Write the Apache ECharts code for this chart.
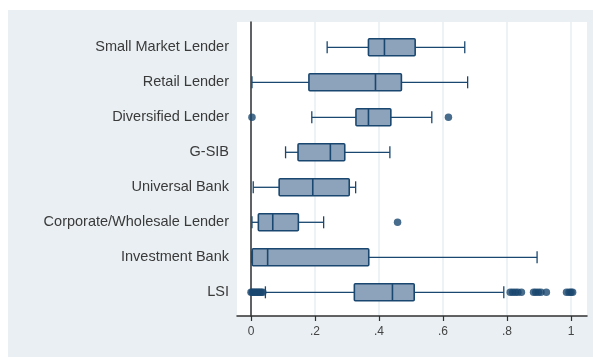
<!DOCTYPE html>
<html>
<head>
<meta charset="utf-8">
<script src="https://cdn.jsdelivr.net/npm/echarts@6/dist/echarts.min.js"></script>
<style>
  html, body { margin: 0; padding: 0; background: #ffffff; }
  #chart { width: 593px; height: 358px; }
</style>
</head>
<body>
<div id="chart"></div>
<script>
// Bank business-model groups, top to bottom
const categories = [
  'Small Market Lender',
  'Retail Lender',
  'Diversified Lender',
  'G-SIB',
  'Universal Bank',
  'Corporate/Wholesale Lender',
  'Investment Bank',
  'LSI'
];

// Box-plot summary per group
const whiskerLow  = [0.238, 0.003, 0.190, 0.108, 0.007, 0.003, 0.002, 0.045];
const quartile1   = [0.367, 0.181, 0.328, 0.147, 0.088, 0.023, 0.004, 0.323];
const medians     = [0.417, 0.389, 0.367, 0.248, 0.193, 0.068, 0.052, 0.442];
const quartile3   = [0.513, 0.470, 0.437, 0.293, 0.307, 0.148, 0.368, 0.510];
const whiskerHigh = [0.668, 0.677, 0.565, 0.434, 0.327, 0.227, 0.894, 0.790];

// Outside values per group
const outliers = [
  [],
  [],
  [0.003, 0.617],
  [],
  [],
  [0.458],
  [],
  [0.000, 0.004, 0.008, 0.012, 0.016, 0.020, 0.024, 0.028, 0.032, 0.037,
   0.810, 0.818, 0.826, 0.834, 0.845,
   0.883, 0.890, 0.898, 0.906, 0.923,
   0.986, 0.994, 1.000, 1.005]
];

// Axis ticks
const tickValues = [0, 0.2, 0.4, 0.6, 0.8, 1];

const NAVY = '#1a476f';
const BOX_FILL = '#8ca3bb';
const AXIS_COLOR = '#303030';
const X_MIN = -0.04375, X_MAX = 1.05;

const boxData = categories.map((c, i) =>
  [i, whiskerLow[i], quartile1[i], medians[i], quartile3[i], whiskerHigh[i]]);

const outlierData = [];
outliers.forEach((vals, i) => vals.forEach(v => outlierData.push([v, i])));

function renderBox(params, api) {
  const cat = api.value(0);
  const pLow = api.coord([api.value(1), cat]);
  const pQ1 = api.coord([api.value(2), cat]);
  const pMed = api.coord([api.value(3), cat]);
  const pQ3 = api.coord([api.value(4), cat]);
  const pHigh = api.coord([api.value(5), cat]);
  const y = pMed[1];
  const boxHalf = 8.5, capHalf = 6;
  const lineStyle = { stroke: NAVY, lineWidth: 1.3, fill: null };
  return {
    type: 'group',
    children: [
      { type: 'line', shape: { x1: pLow[0], y1: y, x2: pQ1[0], y2: y }, style: lineStyle },
      { type: 'line', shape: { x1: pQ3[0], y1: y, x2: pHigh[0], y2: y }, style: lineStyle },
      { type: 'line', shape: { x1: pLow[0], y1: y - capHalf, x2: pLow[0], y2: y + capHalf }, style: lineStyle },
      { type: 'line', shape: { x1: pHigh[0], y1: y - capHalf, x2: pHigh[0], y2: y + capHalf }, style: lineStyle },
      { type: 'rect', shape: { x: pQ1[0], y: y - boxHalf, width: pQ3[0] - pQ1[0], height: boxHalf * 2, r: 1 },
        style: { fill: BOX_FILL, stroke: NAVY, lineWidth: 1.6 } },
      { type: 'line', shape: { x1: pMed[0], y1: y - boxHalf, x2: pMed[0], y2: y + boxHalf },
        style: { stroke: NAVY, lineWidth: 1.6 } }
    ]
  };
}

const chart = echarts.init(document.getElementById('chart'), null, { renderer: 'canvas' });

chart.setOption({
  backgroundColor: '#ffffff',
  animation: false,
  textStyle: { fontFamily: '"Liberation Sans", Arial, sans-serif' },
  graphic: [{
    type: 'rect', z: -100, silent: true,
    shape: { x: 8, y: 10, width: 585, height: 347 },
    style: { fill: '#e9eff2' }
  }],
  grid: [
    // plot frame: white region, axes, gridlines
    { left: 237, width: 350, top: 22, height: 294, show: true,
      backgroundColor: '#ffffff', borderWidth: 0, containLabel: false },
    // category bands for the boxes
    { left: 237, width: 350, top: 29.8, height: 280, containLabel: false }
  ],
  xAxis: [
    {
      gridIndex: 0, type: 'value', min: X_MIN, max: X_MAX,
      axisLine: { show: true, lineStyle: { color: AXIS_COLOR, width: 1.5 } },
      axisTick: { show: true, length: 5, customValues: tickValues,
        lineStyle: { color: AXIS_COLOR, width: 1.2 } },
      axisLabel: { show: true, customValues: tickValues, margin: 10,
        fontSize: 12, color: '#444444',
        formatter: v => String(+v.toFixed(2)).replace(/^0\./, '.') },
      splitLine: { show: true, lineStyle: { color: '#e7eff2', width: 1.5 } }
    },
    {
      gridIndex: 1, type: 'value', min: X_MIN, max: X_MAX, show: false,
      splitLine: { show: false }
    }
  ],
  yAxis: [
    {
      gridIndex: 0, type: 'value', min: 0, max: 1,
      axisLine: { show: true, lineStyle: { color: AXIS_COLOR, width: 1.5 } },
      axisTick: { show: false }, axisLabel: { show: false }, splitLine: { show: false }
    },
    {
      gridIndex: 1, type: 'category', inverse: true, data: categories,
      boundaryGap: true,
      axisLine: { show: false }, axisTick: { show: false },
      axisLabel: { show: true, margin: 8, fontSize: 14.5, color: '#3a3a3a' },
      splitLine: { show: false }
    }
  ],
  series: [
    {
      type: 'custom', xAxisIndex: 1, yAxisIndex: 1,
      data: boxData, renderItem: renderBox,
      encode: { x: [1, 2, 3, 4, 5], y: 0 }, z: 3
    },
    {
      type: 'scatter', xAxisIndex: 1, yAxisIndex: 1,
      data: outlierData, symbol: 'circle', symbolSize: 7.5,
      itemStyle: { color: NAVY }, z: 4
    }
  ]
});
</script>
</body>
</html>
